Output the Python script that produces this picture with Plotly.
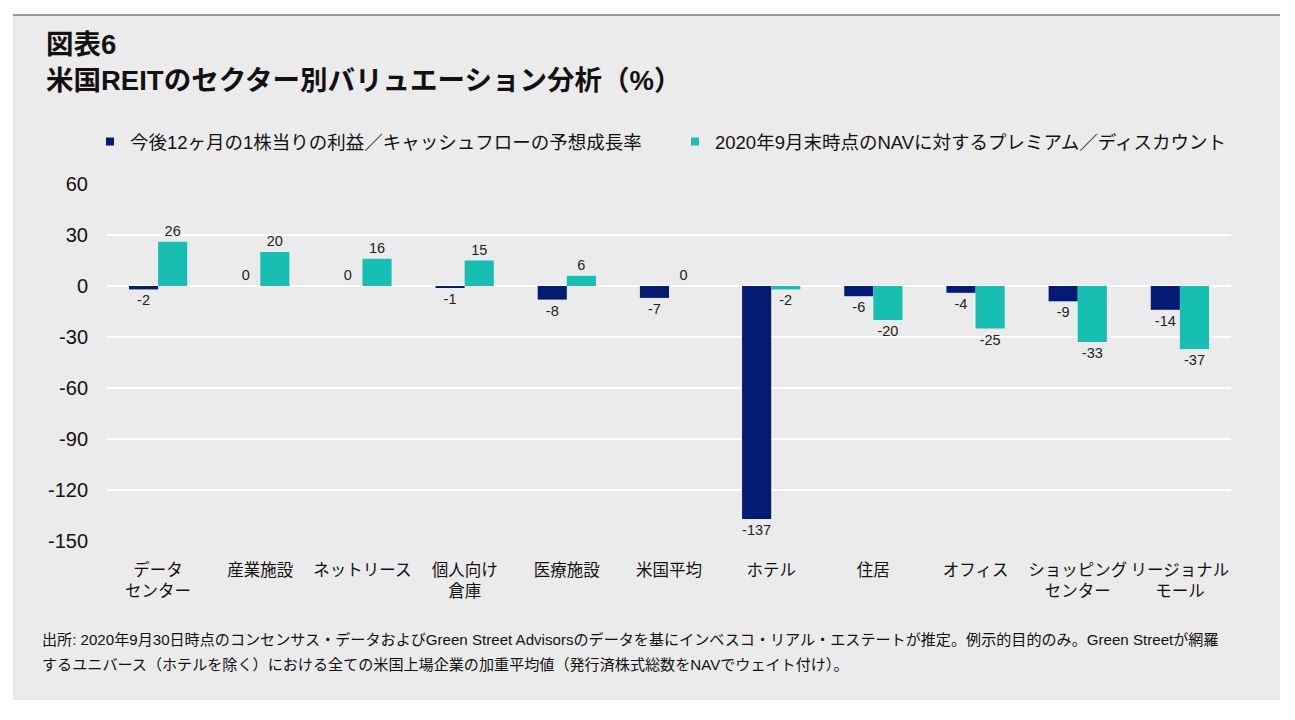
import plotly.graph_objects as go

categories = ["データ\nセンター", "産業施設", "ネットリース", "個人向け\n倉庫", "医療施設", "米国平均",
              "ホテル", "住居", "オフィス", "ショッピング\nセンター", "リージョナル\nモール"]
growth = [-2, 0, 0, -1, -8, -7, -137, -6, -4, -9, -14]
nav_premium = [26, 20, 16, 15, 6, 0, -2, -20, -25, -33, -37]
series_names = ["今後12ヶ月の1株当りの利益／キャッシュフローの予想成長率",
                "2020年9月末時点のNAVに対するプレミアム／ディスカウント"]
y_ticks = [60, 30, 0, -30, -60, -90, -120, -150]
title_lines = ["図表6", "米国REITのセクター別バリュエーション分析（%）"]
footnote_lines = [
    "出所: 2020年9月30日時点のコンセンサス・データおよびGreen Street Advisorsのデータを基にインベスコ・リアル・エステートが推定。例示的目的のみ。Green Streetが網羅",
    "するユニバース（ホテルを除く）における全ての米国上場企業の加重平均値（発行済株式総数をNAVでウェイト付け）。",
]

NAVY = "#031b73"
TEAL = "#17bfb3"
PANEL = "#ebebeb"
FONT = "Liberation Sans, Arial, Noto Sans CJK JP, sans-serif"

OFF = 8  # page body margin
W, H = 1295 - OFF, 720 - OFF
# plot area in page pixels
PL, PR, PT, PB = 107, 1231, 184, 541
L, T = PL - OFF, PT - OFF
R, B = W - (PR - OFF), H - (PB - OFF)
pw, ph = PR - PL, PB - PT
ymin, ymax = -150, 60

def px_x(p):
    return (p - PL) / pw

def px_y(p):
    return (PB - p) / ph

x_labels = [c.replace("\n", "<br>") for c in categories]

fig = go.Figure()
for name, vals, col in [(series_names[0], growth, NAVY), (series_names[1], nav_premium, TEAL)]:
    fig.add_trace(go.Bar(
        x=x_labels, y=vals, name=name, marker_color=col, marker_line_width=0,
        text=[str(v) for v in vals], textposition="outside", cliponaxis=False,
        textfont=dict(size=14.5, color="#222222", family=FONT),
        showlegend=False,
    ))
    # legend proxy with small square marker
    fig.add_trace(go.Scatter(
        x=[None], y=[None], mode="markers", name=name,
        marker=dict(symbol="square", size=8, color=col), showlegend=True,
    ))

fig.update_layout(
    width=W, height=H,
    margin=dict(l=L, r=R, t=T, b=B, pad=0),
    paper_bgcolor="white",
    plot_bgcolor=PANEL,
    barmode="group", bargap=0.43, bargroupgap=0,
    font=dict(family=FONT, color="#111111"),
    title=dict(
        text="<b>" + "<br>".join(title_lines) + "</b>",
        font=dict(size=27.5, family=FONT, color="#111111"),
        x=(46 - OFF) / W, xref="container", xanchor="left",
        y=1 - (54 - OFF) / H, yref="container", yanchor="top",
    ),
    legend=dict(
        orientation="h", x=px_x(90), xanchor="left", y=px_y(123), yanchor="top",
        font=dict(size=18.5, family=FONT, color="#111111"),
        bgcolor="rgba(0,0,0,0)", entrywidth=540, entrywidthmode="pixels",
        itemwidth=30,
    ),
    xaxis=dict(
        type="category", categoryorder="array", categoryarray=x_labels,
        range=[-0.5, len(categories) - 0.5],
        showgrid=False, showline=False, zeroline=False, ticks="",
        tickangle=0,
        tickfont=dict(size=16.5, family=FONT, color="#111111"),
        ticklabelstandoff=17,
    ),
    xaxis2=dict(
        type="category", categoryorder="array", categoryarray=x_labels,
        range=[-0.5, len(categories) - 0.5],
        overlaying="x", anchor="free", position=(0 - ymin) / (ymax - ymin), side="bottom",
        showgrid=False, zeroline=False, showline=True, linecolor="#333333", linewidth=1.3,
        ticks="outside", tickson="boundaries", ticklen=7, tickcolor="#333333", tickwidth=1,
        showticklabels=False,
    ),
    yaxis=dict(
        range=[ymin, ymax], tickvals=y_ticks, ticktext=[str(v) for v in y_ticks],
        showgrid=True, gridcolor="white", gridwidth=2,
        zeroline=False, showline=False, ticks="",
        tickfont=dict(size=20, family=FONT, color="#111111"),
        ticklabelstandoff=18,
    ),
    shapes=[
        dict(type="rect", xref="paper", yref="paper", layer="below",
             x0=px_x(13), x1=px_x(1280), y0=px_y(700), y1=px_y(15),
             fillcolor=PANEL, line_width=0),
        dict(type="line", xref="paper", yref="paper", layer="above",
             x0=px_x(13), x1=px_x(1280), y0=px_y(15), y1=px_y(15),
             line=dict(color="#444444", width=1)),
    ],
    annotations=[
        dict(text=footnote_lines[0], xref="paper", yref="paper", x=px_x(40), y=px_y(639),
             xanchor="left", yanchor="middle", showarrow=False,
             font=dict(size=15.1, family=FONT, color="#111111")),
        dict(text=footnote_lines[1], xref="paper", yref="paper", x=px_x(40), y=px_y(664),
             xanchor="left", yanchor="middle", showarrow=False,
             font=dict(size=15.1, family=FONT, color="#111111")),
    ],
)

fig.write_html("out.html")
